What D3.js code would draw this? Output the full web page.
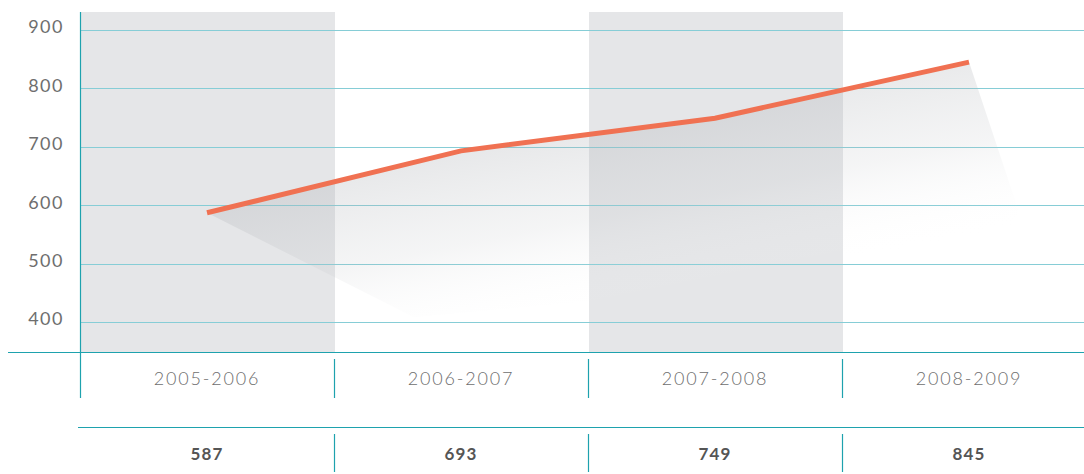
<!DOCTYPE html>
<html>
<head>
<meta charset="utf-8">
<script src="https://cdn.jsdelivr.net/npm/d3@7"></script>
<style>
  body { margin: 0; background: #fff; }
  svg { display: block; font-family: "Lato", sans-serif; }
</style>
</head>
<body>
<div id="chart"></div>
<script>
// data
var seasons = ["2005-2006", "2006-2007", "2007-2008", "2008-2009"];
var counts = [587, 693, 749, 845];
var yTicks = [400, 500, 600, 700, 800, 900];
var shadedSeasons = ["2005-2006", "2007-2008"];

var width = 1084, height = 474;

var svg = d3.select("#chart").append("svg")
    .attr("width", width)
    .attr("height", height);

// scales
var x = d3.scaleBand()
    .domain(seasons)
    .range([80, 1096]);
var y = d3.scaleLinear()
    .domain([400, 900])
    .range([322, 30]);

var plotTop = 12, plotBottom = 352;

// gray bands
svg.selectAll(".band")
    .data(shadedSeasons)
    .enter().append("rect")
    .attr("class", "band")
    .attr("x", function (d) { return x(d) + 1; })
    .attr("y", plotTop)
    .attr("width", x.bandwidth())
    .attr("height", plotBottom - plotTop)
    .style("fill", "#e5e6e8");

// grid lines
svg.selectAll(".grid")
    .data(yTicks)
    .enter().append("line")
    .attr("class", "grid")
    .attr("x1", 81)
    .attr("x2", width)
    .attr("y1", function (d) { return Math.round(y(d)) + 0.5; })
    .attr("y2", function (d) { return Math.round(y(d)) + 0.5; })
    .style("stroke", "#86cdd6")
    .style("stroke-width", 1);

// tick labels
svg.selectAll(".ytick")
    .data(yTicks)
    .enter().append("text")
    .attr("class", "ytick")
    .attr("x", 64)
    .attr("y", function (d) { return y(d) - 3; })
    .attr("dy", "0.35em")
    .attr("text-anchor", "end")
    .style("font-size", "18px")
    .style("font-weight", 400)
    .style("letter-spacing", "1.5px")
    .style("fill", "#6e6e6e")
    .text(function (d) { return d; });

// shadow under the line (gradient runs across the line direction)
var pts = seasons.map(function (s, i) {
    return [x(s) + x.bandwidth() / 2, y(counts[i])];
});
var defs = svg.append("defs");
var grad = defs.append("linearGradient")
    .attr("id", "shade")
    .attr("gradientUnits", "userSpaceOnUse")
    .attr("x1", 560).attr("y1", 120)
    .attr("x2", 605).attr("y2", 345);
grad.append("stop").attr("offset", 0).attr("stop-color", "#a9acb1").attr("stop-opacity", 0.3);
grad.append("stop").attr("offset", 0.45).attr("stop-color", "#b9bcc0").attr("stop-opacity", 0.15);
grad.append("stop").attr("offset", 0.85).attr("stop-color", "#ffffff").attr("stop-opacity", 0);

var last = pts[pts.length - 1];
var shadowPts = pts.concat([
    [last[0] + 50, last[1] + 150],
    [last[0] + 15, y(480)],
    [x(seasons[2]) + 30, y(440)],
    [x(seasons[1]) + 80, y(408)]
]);
svg.append("path")
    .attr("d", d3.line()(shadowPts) + "Z")
    .style("fill", "url(#shade)");

// main line
svg.append("path")
    .datum(counts)
    .attr("d", d3.line()
        .x(function (d, i) { return x(seasons[i]) + x.bandwidth() / 2; })
        .y(function (d) { return y(d); }))
    .style("fill", "none")
    .style("stroke", "#f07152")
    .style("stroke-width", 5);

// axes lines
var teal = "#1ea2ae";
svg.append("line")
    .attr("x1", 80.5).attr("x2", 80.5)
    .attr("y1", plotTop).attr("y2", 398)
    .style("stroke", teal).style("stroke-width", 1.2);
svg.append("line")
    .attr("x1", 8).attr("x2", width)
    .attr("y1", plotBottom + 0.5).attr("y2", plotBottom + 0.5)
    .style("stroke", teal).style("stroke-width", 1.2);
svg.append("line")
    .attr("x1", 78).attr("x2", width)
    .attr("y1", 427.5).attr("y2", 427.5)
    .style("stroke", teal).style("stroke-width", 1.2);

// separators
var seps = seasons.slice(1);
svg.selectAll(".sep1")
    .data(seps)
    .enter().append("line")
    .attr("x1", function (d) { return x(d) + 0.5; })
    .attr("x2", function (d) { return x(d) + 0.5; })
    .attr("y1", 359).attr("y2", 398)
    .style("stroke", teal).style("stroke-width", 1.2);
svg.selectAll(".sep2")
    .data(seps)
    .enter().append("line")
    .attr("x1", function (d) { return x(d) + 0.5; })
    .attr("x2", function (d) { return x(d) + 0.5; })
    .attr("y1", 434).attr("y2", 472)
    .style("stroke", teal).style("stroke-width", 1.2);

// category labels
svg.selectAll(".cat")
    .data(seasons)
    .enter().append("text")
    .attr("class", "cat")
    .attr("x", function (d) { return x(d) + x.bandwidth() / 2; })
    .attr("y", 379)
    .attr("dy", "0.35em")
    .attr("text-anchor", "middle")
    .style("font-size", "18px")
    .style("font-weight", 300)
    .style("letter-spacing", "1.8px")
    .style("fill", "#6e6e6e")
    .text(function (d) { return d; });

// value labels
svg.selectAll(".val")
    .data(counts)
    .enter().append("text")
    .attr("class", "val")
    .attr("x", function (d, i) { return x(seasons[i]) + x.bandwidth() / 2; })
    .attr("y", 454)
    .attr("dy", "0.35em")
    .attr("text-anchor", "middle")
    .style("font-size", "17px")
    .style("font-weight", 700)
    .style("letter-spacing", "1.2px")
    .style("fill", "#555")
    .text(function (d) { return d; });
</script>
</body>
</html>
